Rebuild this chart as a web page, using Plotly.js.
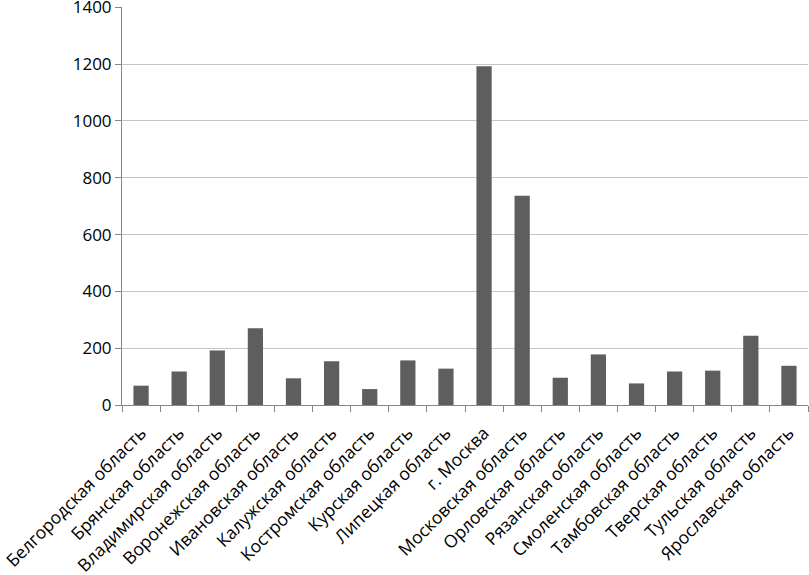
<!DOCTYPE html>
<html><head><meta charset="utf-8">
<script src="https://cdn.plot.ly/plotly-3.0.1.min.js"></script>
<style>html,body{margin:0;padding:0;background:#fff}#chart{width:809px;height:575px}</style>
</head><body><div id="chart"></div>
<script>
const regions = ["Белгородская область","Брянская область","Владимирская область","Воронежская область","Ивановская область","Калужская область","Костромская область","Курская область","Липецкая область","г. Москва","Московская область","Орловская область","Рязанская область","Смоленская область","Тамбовская область","Тверская область","Тульская область","Ярославская область"];
const values = [68,118,192,270,94,154,56,157,128,1192,737,96,178,76,118,121,244,138];
const yTicks = [0,200,400,600,800,1000,1200,1400];

Plotly.newPlot('chart', [{
  type:'bar', x:regions, y:values,
  marker:{color:'#5e5e5e'}, hoverinfo:'skip'
}], {
  width:809, height:575,
  margin:{l:122, r:1, t:7, b:170, pad:0},
  paper_bgcolor:'#fff', plot_bgcolor:'#fff',
  bargap:0.6, showlegend:false,
  font:{family:'Open Sans, sans-serif', color:'#000'},
  xaxis:{type:'category', tickangle:-45, ticks:'outside', tickson:'boundaries', ticklen:6, tickcolor:'#868686',
    showline:true, linecolor:'#868686', linewidth:1, showgrid:false, ticklabelstandoff:10,
    tickfont:{size:17.5, family:'Open Sans, sans-serif'}, automargin:false},
  yaxis:{range:[0,1401], tickvals:yTicks, ticktext:yTicks.map(String), ticks:'outside', ticklen:6, tickcolor:'#868686',
    showline:true, linecolor:'#868686', linewidth:1, gridcolor:'#c4c4c4', gridwidth:1, zeroline:false,
    ticklabeloverflow:'allow', tickfont:{size:17, family:'Open Sans, sans-serif'}, automargin:false}
}, {staticPlot:true});
</script></body></html>
